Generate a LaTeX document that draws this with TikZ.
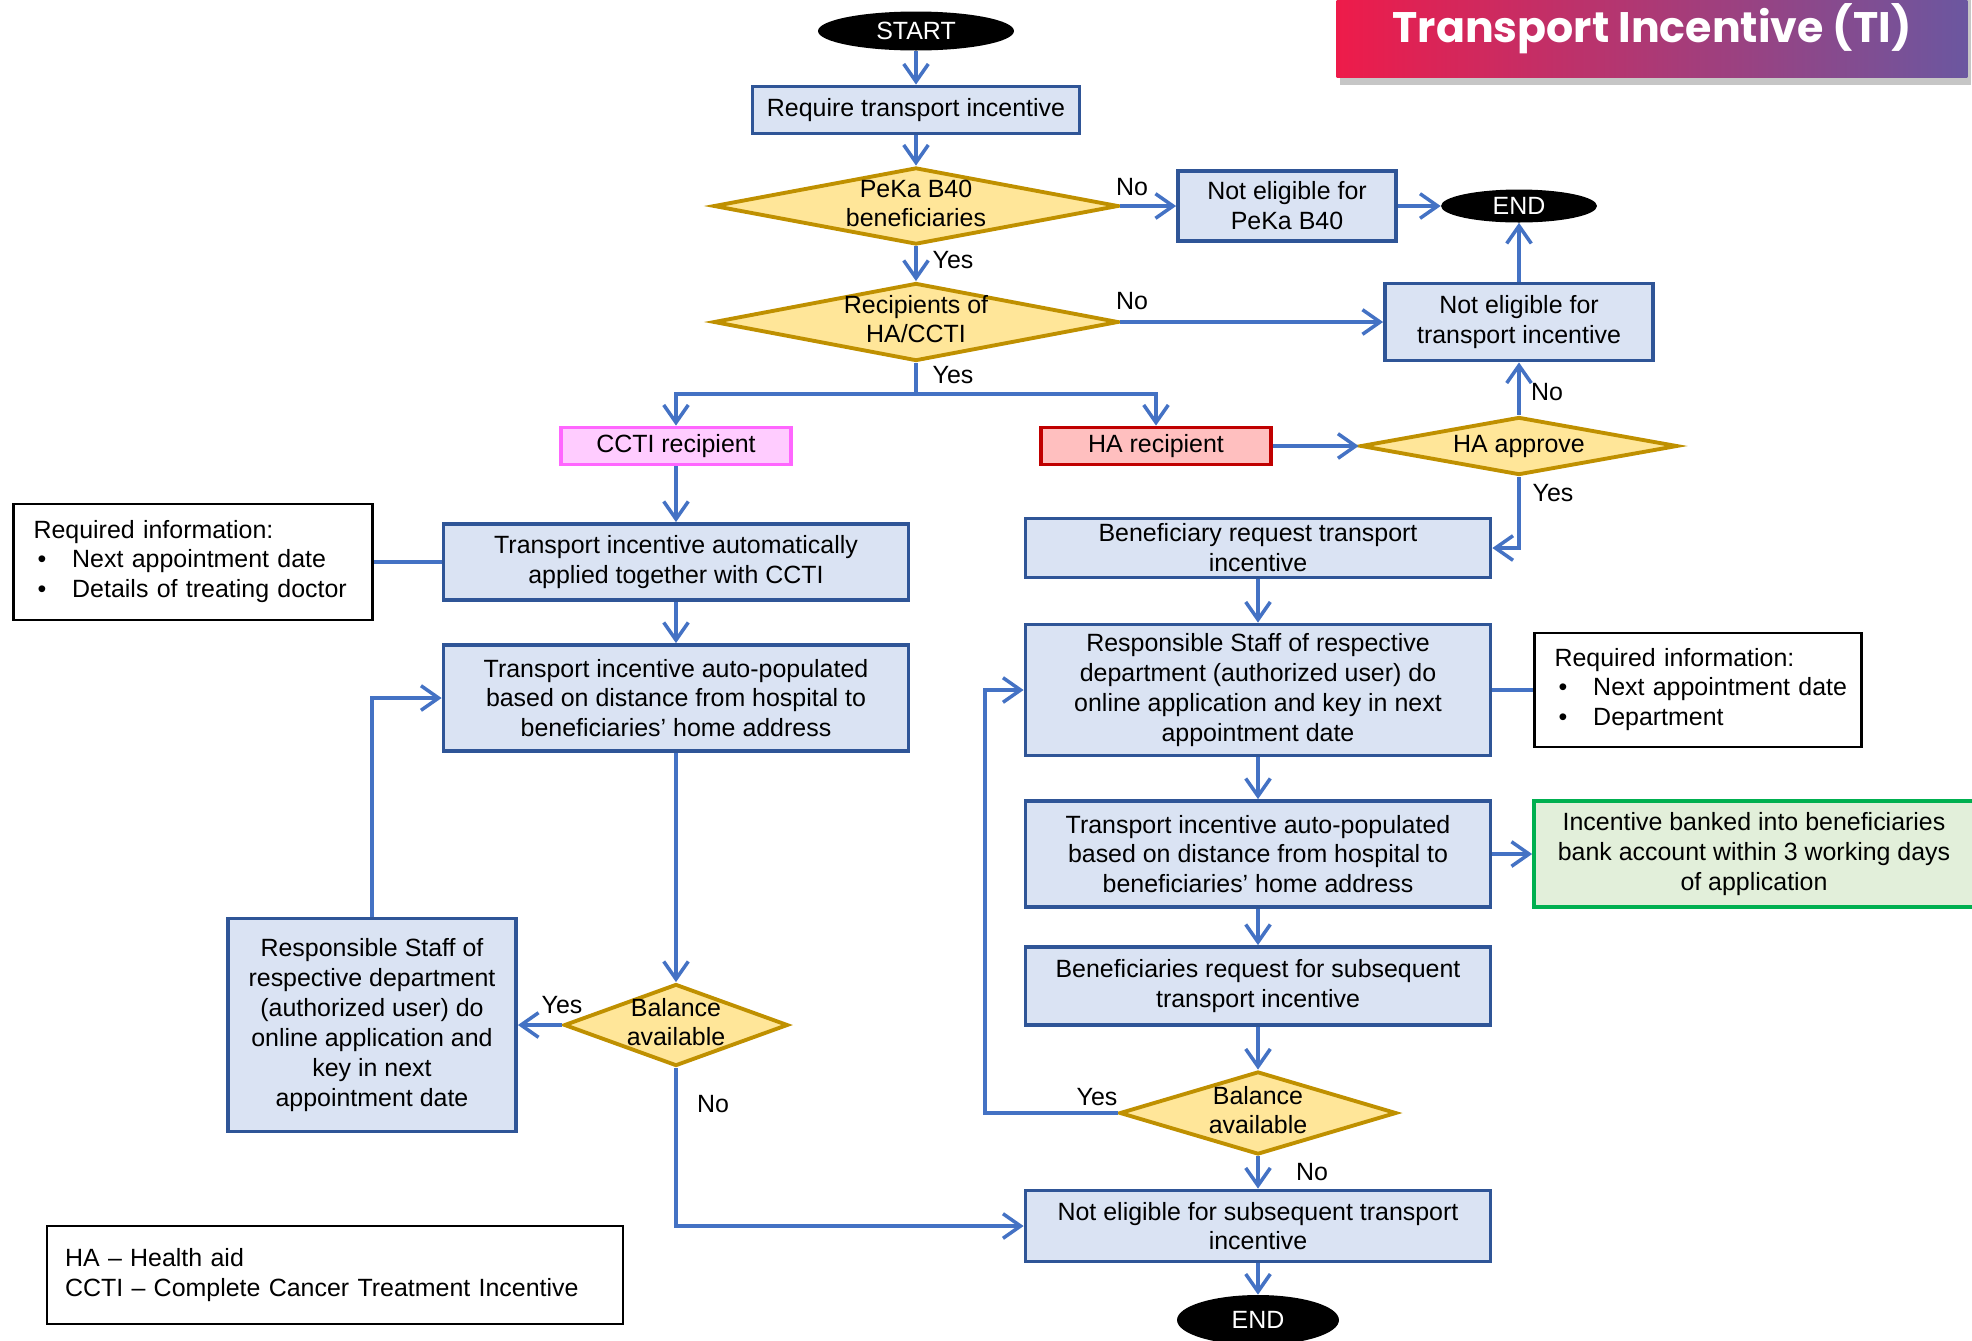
\documentclass[tikz,border=0pt]{standalone}
\usepackage{fontspec}
\setmainfont{Liberation Sans}
\newfontfamily\titlefont{Poppins}
\usetikzlibrary{shapes.geometric,arrows.meta,shadows}
\definecolor{boxfill}{HTML}{DAE3F3}
\definecolor{boxline}{HTML}{2F5597}
\definecolor{decfill}{HTML}{FFE699}
\definecolor{decline}{HTML}{BF9000}
\definecolor{flowblue}{HTML}{4472C4}
\definecolor{cctifill}{HTML}{FFCCFF}
\definecolor{cctiline}{HTML}{FF66FF}
\definecolor{hafill}{HTML}{FFBFBF}
\definecolor{haline}{HTML}{C00000}
\definecolor{bankfill}{HTML}{E2EFDA}
\definecolor{bankline}{HTML}{00B050}
\definecolor{titleL}{HTML}{EE1B4A}
\definecolor{titleR}{HTML}{6B57A0}

\begin{document}
\begin{tikzpicture}[x=0.02cm,y=-0.02cm,
    every node/.style={font=\fontsize{14.2}{17}\selectfont},
    procbox/.style={draw=boxline,fill=boxfill,line width=2.2pt,align=center,minimum width=9.3cm,inner sep=2pt},
    decision/.style={diamond,draw=decline,fill=decfill,line width=2.2pt,inner sep=0pt},
    terminal/.style={ellipse,fill=black,text=white,inner sep=0pt},
    infobox/.style={draw=black,line width=1.4pt,fill=white,align=left,inner xsep=0.4cm},
    lbl/.style={inner sep=1pt},
    flow/.style={draw=flowblue,line width=2pt,-{Straight Barb[length=10pt,width=14pt]}},
    link/.style={draw=flowblue,line width=2pt}]
  \useasboundingbox (0,0) rectangle (1972,1340);

  \node[left color=titleL,right color=titleR,drop shadow={shadow xshift=2pt,shadow yshift=-4pt,opacity=0.45},
    minimum width=12.62cm,minimum height=1.96cm,inner sep=0pt,text=white,
    font=\titlefont\bfseries\fontsize{24.3}{28}\selectfont] (title) at (1652,29) {Transport Incentive (TI)};

  \node[terminal,minimum width=3.92cm,minimum height=0.78cm] (start) at (916,31) {START};
  \node[procbox,minimum width=6.54cm,minimum height=0.94cm] (req) at (916,110) {Require transport incentive};
  \node[decision,minimum width=8.1cm,minimum height=1.54cm] (peka) at (916,206)
    {\makebox[0pt]{\begin{tabular}{@{}c@{}}PeKa B40\\beneficiaries\end{tabular}}};
  \node[procbox,minimum width=4.36cm,minimum height=1.4cm] (notpeka) at (1287,206) {Not eligible for\\PeKa B40};
  \node[terminal,minimum width=3.12cm,minimum height=0.66cm] (endtop) at (1519,206) {END};
  \node[decision,minimum width=8.1cm,minimum height=1.56cm] (recip) at (916,322)
    {\makebox[0pt]{\begin{tabular}{@{}c@{}}Recipients of\\HA/CCTI\end{tabular}}};
  \node[procbox,minimum width=5.36cm,minimum height=1.54cm] (notti) at (1519,322) {Not eligible for\\transport incentive};
  \coordinate (split) at (916,394);

  \node[procbox,draw=cctiline,fill=cctifill,minimum width=4.6cm,minimum height=0.74cm] (ccti) at (676,446) {CCTI recipient};
  \node[procbox,draw=haline,fill=hafill,minimum width=4.6cm,minimum height=0.74cm] (hanode) at (1156,446) {HA recipient};
  \node[decision,minimum width=6.34cm,minimum height=1.16cm] (haok) at (1519,446) {\makebox[0pt]{HA approve}};

  \node[infobox,text width=6.38cm,minimum height=2.32cm] (infoL) at (193,562)
    {\begin{tabular}{@{}l@{\hspace{0.52cm}}l@{}}
      \multicolumn{2}{@{}l@{}}{Required information:}\\
      \hspace{0.08cm}\textbullet & Next appointment date\\
      \hspace{0.08cm}\textbullet & Details of treating doctor
    \end{tabular}};
  \node[procbox,minimum height=1.52cm] (auto) at (676,562) {Transport incentive automatically\\applied together with CCTI};
  \node[procbox,minimum height=2.12cm] (popL) at (676,698) {Transport incentive auto-populated\\based on distance from hospital to\\beneficiaries’ home address};
  \node[decision,minimum width=4.48cm,minimum height=1.64cm] (balL) at (676,1025)
    {\makebox[0pt]{\begin{tabular}{@{}c@{}}Balance\\available\end{tabular}}};
  \node[procbox,minimum width=5.76cm,minimum height=4.26cm] (staffL) at (372,1025) {Responsible Staff of\\respective department\\(authorized user) do\\online application and\\key in next\\appointment date};

  \node[procbox,minimum height=1.18cm] (benreq) at (1258,548) {Beneficiary request transport\\incentive};
  \node[procbox,minimum height=2.62cm] (staffR) at (1258,690) {Responsible Staff of respective\\department (authorized user) do\\online application and key in next\\appointment date};
  \node[infobox,text width=5.74cm,minimum height=2.28cm] (infoR) at (1698,690)
    {\begin{tabular}{@{}l@{\hspace{0.52cm}}l@{}}
      \multicolumn{2}{@{}l@{}}{Required information:}\\
      \hspace{0.08cm}\textbullet & Next appointment date\\
      \hspace{0.08cm}\textbullet & Department
    \end{tabular}};
  \node[procbox,minimum height=2.12cm] (popR) at (1258,854) {Transport incentive auto-populated\\based on distance from hospital to\\beneficiaries’ home address};
  \node[procbox,draw=bankline,fill=bankfill,minimum width=8.8cm,minimum height=2.12cm] (bank) at (1754,854) {Incentive banked into beneficiaries\\bank account within 3 working days\\of application};
  \node[procbox,minimum height=1.56cm] (subreq) at (1258,986) {Beneficiaries request for subsequent\\transport incentive};
  \node[decision,minimum width=5.54cm,minimum height=1.66cm] (balR) at (1258,1113)
    {\makebox[0pt]{\begin{tabular}{@{}c@{}}Balance\\available\end{tabular}}};
  \coordinate (loop) at (985,1113);
  \node[procbox,minimum height=1.42cm] (notsub) at (1258,1226) {Not eligible for subsequent transport\\incentive};
  \node[terminal,minimum width=3.24cm,minimum height=1.0cm] (endbot) at (1258,1320) {END};

  \node[infobox,minimum height=1.96cm,text width=10.8cm,inner xsep=0.36cm] (legend) at (335,1275)
    {HA -- Health aid\\CCTI -- Complete Cancer Treatment Incentive};

  \node[lbl] (no1) at (1132,187) {No};
  \node[lbl] (yes1) at (953,260) {Yes};
  \node[lbl] (no2) at (1132,301) {No};
  \node[lbl] (yes2) at (953,375) {Yes};
  \node[lbl] (no3) at (1547,392) {No};
  \node[lbl] (yes3) at (1553,493) {Yes};
  \node[lbl] (yes4) at (562,1005) {Yes};
  \node[lbl] (no4) at (713,1104) {No};
  \node[lbl] (yes5) at (1097,1097) {Yes};
  \node[lbl] (no5) at (1312,1172) {No};

  \draw[flow] (start) -- (req);
  \draw[flow] (req) -- (peka);
  \draw[flow] (peka) -- (notpeka);
  \draw[flow] (notpeka) -- (endtop);
  \draw[flow] (peka) -- (recip);
  \draw[flow] (recip) -- (notti);
  \draw[flow] (notti) -- (endtop);
  \draw[link] (recip.south) -- (split);
  \draw[flow] (split) -| (ccti.north);
  \draw[flow] (split) -| (hanode.north);
  \draw[flow] (ccti) -- (auto);
  \draw[flow] (hanode) -- (haok);
  \draw[flow] (haok) -- (notti);
  \draw[flow] (haok.south) |- (benreq.east);
  \draw[link] (infoL) -- (auto);
  \draw[flow] (auto) -- (popL);
  \draw[flow] (popL) -- (balL);
  \draw[flow] (balL) -- (staffL);
  \draw[flow] (staffL.north) |- (popL.west);
  \draw[flow] (balL.south) |- (notsub.west);
  \draw[flow] (benreq) -- (staffR);
  \draw[link] (staffR) -- (infoR);
  \draw[flow] (staffR) -- (popR);
  \draw[flow] (popR) -- (bank);
  \draw[flow] (popR) -- (subreq);
  \draw[flow] (subreq) -- (balR);
  \draw[flow] (balR.west) -- (loop) |- (staffR.west);
  \draw[flow] (balR) -- (notsub);
  \draw[flow] (notsub) -- (endbot);
\end{tikzpicture}
\end{document}
